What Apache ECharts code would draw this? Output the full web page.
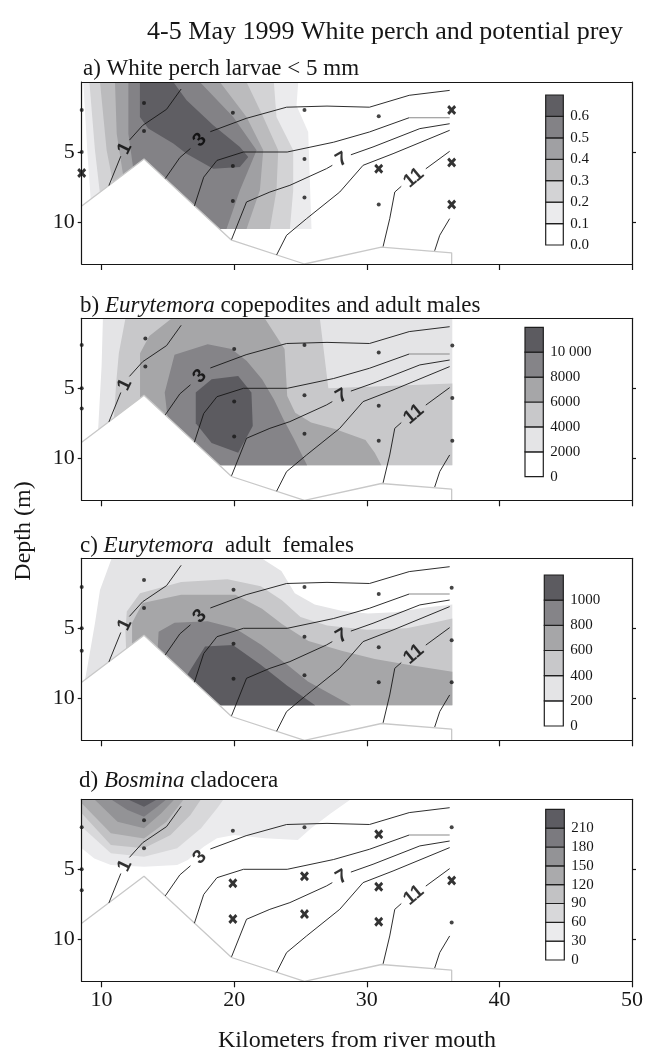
<!DOCTYPE html>
<html><head><meta charset="utf-8">
<script src="https://cdn.jsdelivr.net/npm/echarts@6/dist/echarts.min.js"></script>
<style>html,body{margin:0;padding:0;background:#fff}#c{width:651px;height:1063px}</style>
</head><body><div id="c"></div>
<script>
// ---------------- DATA ----------------
const kmTicks = [10, 20, 30, 40, 50];
const depthTicks = [5, 10];
const kmMin = 8.5, kmMax = 50, depthMax = 13;

// river bottom profile (km, depth m)
const bottomProfile = [[8.5,8.85],[13.2,5.5],[19.8,11.3],[25.3,13],[31.1,11.8],[36.4,12.2],[36.4,13]];

// salinity isolines (km, depth), split where labels sit
const sal1a = [[10.55,7.4],[11.45,5.3]];
const sal1b = [[12.1,4.15],[13.1,3.1],[14.9,1.95],[16.0,0.5]];
const sal3a = [[14.8,6.9],[15.9,5.4],[16.7,4.75]];
const sal3b = [[18.2,3.55],[20.9,2.6],[23.95,1.8],[27.0,1.72],[30.2,1.8],[33.2,0.95],[36.25,0.6]];
const sal5  = [[17.0,8.85],[17.7,6.8],[18.7,5.6],[20.7,5.0],[24.0,5.0],[27.5,4.3],[30.2,3.57],[33.2,2.55]];
const sal5end = [[33.2,2.55],[36.25,2.55]];
const sal7a = [[19.8,11.25],[20.93,8.57],[22.69,7.86],[24.2,7.38],[26.96,6.19],[27.4,5.95]];
const sal7b = [[28.8,5.2],[30.47,4.64],[34.0,3.33],[36.25,2.98]];
const sal9  = [[23.2,12.35],[23.95,10.95],[25.46,9.76],[27.96,7.86],[29.72,5.95],[31.98,5.12],[36.25,3.45]];
const sal11a = [[31.23,11.75],[31.73,9.76],[32.11,7.86],[32.6,7.45]];
const sal11b = [[34.45,6.2],[36.25,4.95]];
const sal13 = [[35.12,12.05],[35.5,10.95],[36.25,9.76]];
const salLabelPos = [[11.75,4.75],[17.4,4.15],[28.1,5.55],[33.55,6.85]];
const salLabelText = ['1','3','7','11'];

// a) White perch larvae: regions above 0.1 ... 0.6
const bandsA = [
  [[8.62,0],[24.83,0],[24.7,1.67],[25.58,3.57],[25.83,10.5],[8.5,10.5],[8.5,8.9],[9.18,8.4],[8.92,4.88]],
  [[9.08,0],[22.99,0],[23.19,2.5],[24.45,4.88],[24.45,7.74],[24.2,10.5],[8.5,10.5],[8.5,9],[9.88,8.0],[9.5,4.88]],
  [[9.88,0],[20.93,0],[22.19,2.5],[23.32,4.88],[23.19,7.74],[22.69,10.5],[8.5,10.5],[8.5,9],[10.88,7.3],[10.38,4.88]],
  [[11.01,0],[18.92,0],[20.93,2.5],[22.19,4.88],[21.94,7.74],[20.93,10.5],[8.5,10.5],[8.5,9],[11.64,6.75],[11.14,3.69]],
  [[12.02,0],[17.41,0],[19.93,2.5],[21.69,4.88],[20.43,7.74],[19.42,10.5],[8.5,10.5],[8.5,9],[12.39,6.2],[12.02,3.69]],
  [[12.89,0],[15.41,0],[16.41,1.31],[18.42,3.09],[20.43,4.64],[21.06,5.36],[20.43,6.07],[18.42,6.19],[16.41,5.12],[15.41,4.4],[13.52,3.33],[12.89,2.5]]
];
// b) Eurytemora copepodites and adult males: above 2000 ... 10000
const bandsB = [
  [[10.1,0],[36.45,0],[36.45,10.5],[8.5,10.5],[8.5,8.95],[9.73,8.1],[10.0,3.4]],
  [[11.8,0],[26.46,0],[27.1,5.0],[36.45,4.65],[36.45,10.5],[8.5,10.5],[8.5,9],[10.9,7.6],[11.1,4.6],[11.3,2.5]],
  [[15.3,0],[22.3,0],[23.8,2.2],[24.0,5.55],[24.6,6.75],[25.8,7.45],[27.6,7.9],[29.9,8.7],[30.6,9.6],[31.1,10.5],[8.5,10.5],[8.5,9],[12.9,5.9],[12.9,2.5],[13.6,1.27]],
  [[15.5,2.6],[18.0,1.86],[19.8,2.2],[20.95,3.05],[22.1,4.36],[23.0,5.8],[23.7,7.2],[24.5,8.6],[25.5,10.5],[8.5,10.5],[15.0,7.3],[14.76,5.3]],
  [[17.1,5.3],[18.3,4.36],[20.3,4.12],[21.3,5.3],[21.4,7.7],[20.3,9.6],[18.3,8.9],[17.1,7.5]]
];
// c) Eurytemora adult females: above 200 ... 1000
const bandsC = [
  [[10.76,0],[22.06,0],[23.56,0.9],[24.57,2.5],[26.07,3.3],[28.08,3.75],[30.09,3.95],[32.1,3.85],[34.6,3.5],[36.45,3.3],[36.45,10.5],[8.5,10.5],[8.5,9.0],[8.75,8.7],[9.0,7.38],[9.5,4.64],[9.88,2.26]],
  [[12.9,2.5],[16.0,1.7],[19.5,1.5],[22.0,2.0],[23.6,3.0],[25.0,4.2],[27.0,4.8],[30.0,5.1],[33.0,5.0],[35.0,4.6],[36.45,4.3],[36.45,10.5],[8.5,10.5],[8.5,9.2],[11.85,6.6],[11.8,5.2],[11.9,3.8]],
  [[12.3,4.6],[13.1,3.2],[16.0,2.6],[20.1,2.6],[22.1,3.6],[23.6,4.7],[25.6,5.9],[28.1,6.6],[30.6,7.2],[33.1,7.6],[36.45,8.1],[36.45,10.5],[8.5,10.5],[8.5,9.2],[12.3,6.5]],
  [[14.3,5.24],[15.5,4.6],[18.0,4.5],[20.06,5.0],[22.06,6.2],[24.0,7.6],[25.56,8.8],[28.8,10.5],[8.5,10.5],[14.2,6.9]],
  [[16.3,8.57],[17.8,6.3],[19.9,6.2],[22.0,7.6],[24.0,9.1],[26.1,10.5],[18.9,10.5]]
];
// d) Bosmina cladocera: above 30 ... 210
const bandsD = [
  [[8.5,0],[28.8,0],[27.3,1.0],[25.8,2.07],[24.8,2.9],[22.3,2.79],[20.0,2.55],[18.7,2.79],[17.7,3.39],[16.5,4.34],[15.7,4.7],[13.2,4.82],[10.7,4.7],[9.45,4.22],[8.5,3.5]],
  [[8.5,0],[19.2,0],[18.7,0.65],[17.5,2.07],[15.7,3.5],[13.2,4.1],[10.7,3.86],[8.5,1.96]],
  [[8.5,0],[17.5,0],[16.7,1.12],[15.2,2.55],[13.2,3.5],[10.7,3.27],[8.5,1.0]],
  [[8.5,0],[16.2,0],[14.9,1.6],[13.2,2.8],[10.7,2.43],[8.5,0.29]],
  [[9.45,0],[15.5,0],[14.5,1.0],[13.2,2.07],[11.2,1.6]],
  [[10.7,0],[14.9,0],[14.2,0.53],[13.2,1.24],[11.96,0.77]],
  [[11.96,0],[14.2,0],[13.2,0.53]]
];

// sample points: dots (caught) and crosses
const dotsA = [[8.5,2.0],[8.5,5.0],[13.2,1.5],[13.2,3.5],[19.9,2.2],[19.9,6.0],[19.9,8.5],[25.3,2.0],[25.3,5.5],[25.3,8.25],[30.9,2.45],[30.9,8.75]];
const crossA = [[8.5,6.5],[30.9,6.2],[36.4,2.0],[36.4,5.75],[36.4,8.75]];
const dotsB = [[8.5,1.9],[8.5,5.0],[8.5,6.45],[13.3,1.45],[13.3,3.45],[20.0,2.2],[20.0,5.95],[20.0,8.45],[25.3,1.9],[25.3,5.5],[25.3,8.25],[30.9,2.45],[30.9,6.25],[30.9,8.75],[36.45,1.95],[36.45,5.7],[36.45,8.75]];
const crossB = [];
const dotsC = [[8.5,2.05],[8.5,5.0],[8.5,6.6],[13.2,1.55],[13.2,3.55],[19.95,2.25],[19.95,6.1],[19.95,8.6],[25.3,2.05],[25.3,5.6],[25.3,8.35],[30.9,2.55],[30.9,6.35],[30.9,8.85],[36.4,2.1],[36.4,5.85],[36.4,8.85]];
const crossC = [];
const dotsD = [[8.5,2.0],[8.5,5.0],[8.5,6.5],[13.2,1.5],[13.2,3.5],[19.9,2.25],[25.3,2.0],[36.4,2.0],[36.4,8.8]];
const crossD = [[19.9,6.0],[19.9,8.55],[25.3,5.5],[25.3,8.2],[30.9,2.5],[30.9,6.25],[30.9,8.75],[36.4,5.8]];

// legend thresholds
const legendLabelsA = ['0.0','0.1','0.2','0.3','0.4','0.5','0.6'];
const legendLabelsB = ['0','2000','4000','6000','8000','10 000'];
const legendLabelsC = ['0','200','400','600','800','1000'];
const legendLabelsD = ['0','30','60','90','120','150','180','210'];

// ---------------- STYLE ----------------
const greysA = ['#ffffff','#ebebed','#d3d3d5','#bbbbbd','#a0a0a3','#838286','#5f5e63'];
const greysBC = ['#ffffff','#e4e4e6','#c8c8ca','#a6a6a8','#858488','#5c5b60'];
const greysD = ['#ffffff','#ebebed','#d8d8da','#c2c2c4','#aaaaac','#939396','#7b7a7f','#5d5c62'];
const serif = '"Liberation Serif","Times New Roman",serif';
const ink = '#161616';

const panels = [
  {bands: bandsA, greys: greysA, dots: dotsA, cross: crossA, legend: legendLabelsA},
  {bands: bandsB, greys: greysBC, dots: dotsB, cross: crossB, legend: legendLabelsB},
  {bands: bandsC, greys: greysBC, dots: dotsC, cross: crossC, legend: legendLabelsC},
  {bands: bandsD, greys: greysD, dots: dotsD, cross: crossD, legend: legendLabelsD}
];
const panelTop = [82, 318.3, 558.3, 799.3];
const plotLeft = 81.7, plotWidth = 550.3, plotHeight = 182;
const legendBox = [
  {left: 545.7, top: 95, width: 17.6, height: 150},
  {left: 525, top: 327.3, width: 18.3, height: 149.4},
  {left: 544.3, top: 575, width: 19, height: 151},
  {left: 545.7, top: 809.3, width: 18.6, height: 150.7}
];
const labelAngles = [64, 45, 30, 40];

const salSegs = [sal1a, sal1b, sal3a, sal3b, sal5, sal7a, sal7b, sal9, sal11a, sal11b, sal13];
const crossPath = 'path://M0,2.2L2.2,0L5,2.8L7.8,0L10,2.2L7.2,5L10,7.8L7.8,10L5,7.2L2.2,10L0,7.8L2.8,5Z';

const grid = [], xAxis = [], yAxis = [], series = [];
const frameLine = {show: true, onZero: false, lineStyle: {color: ink, width: 1.2}};

panels.forEach((p, i) => {
  grid.push({left: plotLeft, top: panelTop[i], width: plotWidth, height: plotHeight, containLabel: false});
  const xi = 2 * i, yi = 2 * i;
  xAxis.push({
    type: 'value', gridIndex: i, min: kmMin, max: kmMax, position: 'bottom', z: 20,
    splitLine: {show: false},
    axisLine: frameLine,
    axisTick: {show: true, inside: false, length: 6, customValues: kmTicks, lineStyle: {color: ink, width: 1.2}},
    axisLabel: {show: i === 3, customValues: kmTicks, color: ink, fontFamily: serif, fontSize: 22, margin: 8}
  });
  xAxis.push({
    type: 'value', gridIndex: i, min: kmMin, max: kmMax, position: 'top', z: 20,
    splitLine: {show: false}, axisTick: {show: false}, axisLabel: {show: false},
    axisLine: frameLine
  });
  yAxis.push({
    type: 'value', gridIndex: i, min: 0, max: depthMax, inverse: true, position: 'left', z: 20,
    splitLine: {show: false},
    axisLine: frameLine,
    axisTick: {show: true, inside: false, length: 4, customValues: depthTicks, lineStyle: {color: ink, width: 1.2}},
    axisLabel: {show: true, customValues: depthTicks, color: ink, fontFamily: serif, fontSize: 22, margin: 7}
  });
  yAxis.push({
    type: 'value', gridIndex: i, min: 0, max: depthMax, inverse: true, position: 'right', z: 20,
    splitLine: {show: false},
    axisLine: frameLine,
    axisTick: {show: true, inside: false, length: 4, customValues: depthTicks, lineStyle: {color: ink, width: 1.2}},
    axisLabel: {show: false}
  });

  const bands = p.bands, greys = p.greys;
  // filled contour bands
  series.push({
    type: 'custom', xAxisIndex: xi, yAxisIndex: yi, z: 1, silent: true, animation: false, clip: true,
    data: bands.map((b, k) => [b[0][0], b[0][1], k]),
    renderItem: function (params, api) {
      const k = params.dataIndex;
      return {type: 'polygon', shape: {points: bands[k].map(pt => api.coord(pt))},
              style: {fill: greys[k + 1], stroke: null}};
    }
  });
  // river bottom (white)
  series.push({
    type: 'custom', xAxisIndex: xi, yAxisIndex: yi, z: 2, silent: true, animation: false,
    data: [[bottomProfile[0][0], bottomProfile[0][1]]],
    renderItem: function (params, api) {
      const pts = bottomProfile.concat([[kmMin, depthMax]]).map(pt => api.coord(pt));
      return {type: 'polygon', shape: {points: pts}, style: {fill: '#ffffff', stroke: null}};
    }
  });
  series.push({
    type: 'line', xAxisIndex: xi, yAxisIndex: yi, z: 3, silent: true, animation: false,
    data: bottomProfile, symbol: 'none', lineStyle: {color: '#c8c8c8', width: 1.3}
  });
  // salinity isolines
  salSegs.forEach(seg => {
    series.push({
      type: 'line', xAxisIndex: xi, yAxisIndex: yi, z: 4, silent: true, animation: false,
      data: seg, symbol: 'none', lineStyle: {color: ink, width: 0.9}
    });
  });
  series.push({
    type: 'line', xAxisIndex: xi, yAxisIndex: yi, z: 4, silent: true, animation: false,
    data: sal5end, symbol: 'none', lineStyle: {color: '#8a8a8a', width: 1.1}
  });
  // isoline labels
  series.push({
    type: 'scatter', xAxisIndex: xi, yAxisIndex: yi, z: 5, silent: true, animation: false,
    symbolSize: 1, itemStyle: {color: 'rgba(0,0,0,0)'},
    data: salLabelPos.map((pos, k) => ({
      value: pos,
      label: {show: true, position: 'inside', formatter: salLabelText[k], rotate: labelAngles[k],
              color: '#000', fontFamily: '"Liberation Sans",Arial,sans-serif', fontWeight: 'bold', fontSize: 19}
    }))
  });
  // sample points
  series.push({
    type: 'scatter', xAxisIndex: xi, yAxisIndex: yi, z: 6, silent: true, animation: false,
    symbol: 'circle', symbolSize: 4, itemStyle: {color: ink}, data: p.dots
  });
  series.push({
    type: 'scatter', xAxisIndex: xi, yAxisIndex: yi, z: 6, silent: true, animation: false,
    symbol: crossPath, symbolSize: [9, 10], itemStyle: {color: '#000'}, data: p.cross
  });
});

// legends
panels.forEach((p, i) => {
  const gi = 4 + i, ai = 8 + i;
  const lb = legendBox[i];
  grid.push({left: lb.left, top: lb.top, width: lb.width, height: lb.height});
  const n = p.greys.length;
  const idx = p.greys.map((c, k) => k);
  xAxis.push({type: 'value', gridIndex: gi, min: 0, max: 1, show: false});
  yAxis.push({
    type: 'value', gridIndex: gi, min: 0, max: n, position: 'right',
    splitLine: {show: false}, axisLine: {show: false}, axisTick: {show: false},
    axisLabel: {show: true, customValues: idx, formatter: v => p.legend[v] || '',
                color: ink, fontFamily: serif, fontSize: 15, margin: 7}
  });
  const greys = p.greys;
  series.push({
    type: 'custom', xAxisIndex: ai, yAxisIndex: ai, z: 5, silent: true, animation: false,
    data: idx.map(k => [0, k]),
    renderItem: function (params, api) {
      const k = params.dataIndex;
      const a = api.coord([0, k]), b = api.coord([1, k + 1]);
      return {type: 'rect', shape: {x: a[0], y: b[1], width: b[0] - a[0], height: a[1] - b[1]},
              style: {fill: greys[k], stroke: '#1e1e1e', lineWidth: 1.2}};
    }
  });
});

const TFS = 23;
const ital = {fontStyle: 'italic', fontFamily: serif, fontSize: TFS, fill: ink};
function titleText(x, y, text) {
  return {type: 'text', x: x, y: y, silent: true,
          style: {text: text, fill: ink, fontFamily: serif, fontSize: TFS, verticalAlign: 'middle', align: 'left',
                  rich: {i: ital, n: {fontFamily: serif, fontSize: TFS, fill: ink}}}};
}

const option = {
  backgroundColor: '#ffffff',
  animation: false,
  grid: grid, xAxis: xAxis, yAxis: yAxis, series: series,
  graphic: [
    {type: 'text', x: 385, y: 32, silent: true,
     style: {text: '4-5 May 1999 White perch and potential prey', fill: ink, fontFamily: serif, fontSize: 26,
             align: 'center', verticalAlign: 'middle'}},
    titleText(83, 69, '{n|a) White perch larvae < 5 mm}'),
    titleText(80, 305.5, '{n|b) }{i|Eurytemora}{n| copepodites and adult males}'),
    titleText(80, 545.5, '{n|c) }{i|Eurytemora}{n|  adult  females}'),
    titleText(79, 781, '{n|d) }{i|Bosmina}{n| cladocera}'),
    {type: 'text', x: 357, y: 1041, silent: true,
     style: {text: 'Kilometers from river mouth', fill: ink, fontFamily: serif, fontSize: 24,
             align: 'center', verticalAlign: 'middle'}},
    {type: 'text', x: 24, y: 531, rotation: Math.PI / 2, silent: true,
     style: {text: 'Depth (m)', fill: ink, fontFamily: serif, fontSize: 24,
             align: 'center', verticalAlign: 'middle'}}
  ]
};

const chart = echarts.init(document.getElementById('c'), null, {renderer: 'canvas'});
chart.setOption(option);
</script></body></html>
